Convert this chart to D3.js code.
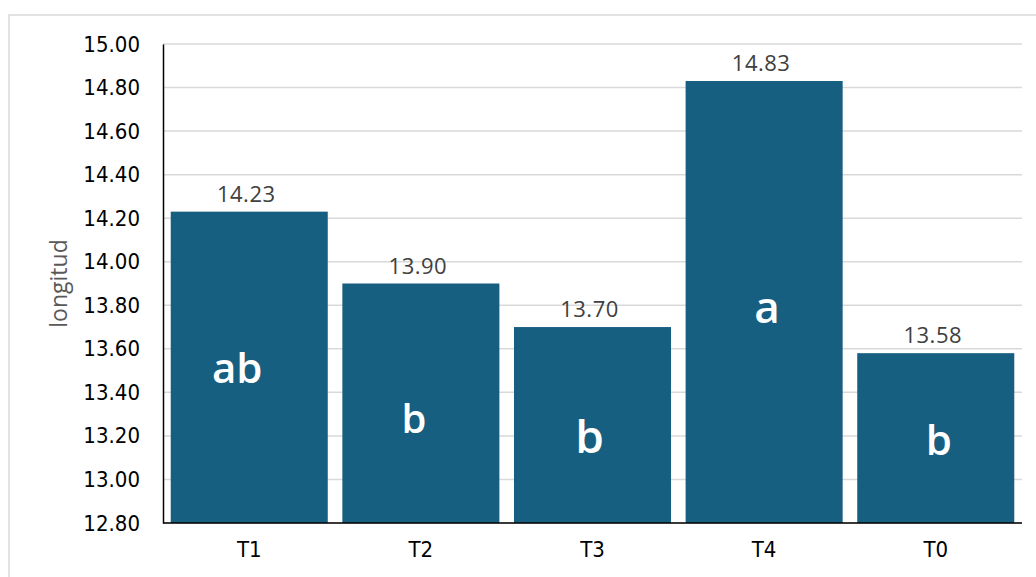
<!DOCTYPE html>
<html>
<head>
<meta charset="utf-8">
<script src="https://cdn.jsdelivr.net/npm/d3@7"></script>
<style>
  html, body { margin: 0; padding: 0; background: #fff; }
  svg { display: block; }
</style>
</head>
<body>
<svg id="chart" width="1036" height="577"></svg>
<script>
// Treatments and mean length
const categories = ["T1", "T2", "T3", "T4", "T0"];
const values = [14.23, 13.90, 13.70, 14.83, 13.58];
// Significance groups (Tukey letters)
const groups = ["ab", "b", "b", "a", "b"];
const yTicks = [12.80, 13.00, 13.20, 13.40, 13.60, 13.80, 14.00, 14.20, 14.40, 14.60, 14.80, 15.00];
const yDomain = [12.80, 15.00];
const yTitle = "longitud";

// Placement of the group letters inside each bar (offset from bar centre, baseline, font size)
const letterLayout = [
  { dx: -12, y: 383, size: 42 },
  { dx: -7,  y: 433, size: 40 },
  { dx: -3,  y: 453, size: 46 },
  { dx: 3,   y: 323, size: 44 },
  { dx: 3,   y: 455, size: 42 }
];

const svg = d3.select("#chart");
const margin = { left: 163, right: 1022, top: 44, bottom: 523 };
const barColor = "#175f81";
const gridColor = "#d9d9d9";
const tickFont = "'DejaVu Sans Condensed', 'DejaVu Sans', sans-serif";
const labelFont = "'Open Sans', 'Noto Sans', sans-serif";

// Outer frame
svg.append("rect")
  .attr("x", 9).attr("y", 15)
  .attr("width", 1040).attr("height", 580)
  .attr("fill", "none")
  .attr("stroke", gridColor)
  .attr("stroke-width", 1.5);

const x = d3.scaleBand()
  .domain(categories)
  .range([margin.left, margin.right])
  .paddingInner(0.085)
  .paddingOuter(0.045);

const y = d3.scaleLinear()
  .domain(yDomain)
  .range([margin.bottom, margin.top]);

// Horizontal gridlines
svg.append("g")
  .selectAll("line")
  .data(yTicks)
  .join("line")
  .attr("x1", margin.left).attr("x2", margin.right)
  .attr("y1", d => y(d)).attr("y2", d => y(d))
  .attr("stroke", gridColor)
  .attr("stroke-width", 1.5);

// Bars
svg.append("g")
  .selectAll("rect")
  .data(categories)
  .join("rect")
  .attr("x", d => x(d))
  .attr("width", x.bandwidth())
  .attr("y", (d, i) => y(values[i]))
  .attr("height", (d, i) => y(yDomain[0]) - y(values[i]))
  .attr("fill", barColor);

// Y axis
const yAxis = d3.axisLeft(y)
  .tickValues(yTicks)
  .tickFormat(d3.format(".2f"))
  .tickSize(0)
  .tickPadding(23);
const yg = svg.append("g")
  .attr("transform", `translate(${margin.left},0)`)
  .call(yAxis);
yg.select(".domain").attr("stroke", "#000").attr("stroke-width", 1.5);
yg.selectAll("text")
  .attr("font-family", tickFont)
  .attr("font-size", 22)
  .attr("fill", "#000");

// X axis
const xAxis = d3.axisBottom(x).tickSize(0).tickPadding(18);
const xg = svg.append("g")
  .attr("transform", `translate(0,${margin.bottom})`)
  .call(xAxis);
xg.select(".domain")
  .attr("d", `M${margin.left},0H${margin.right}`)
  .attr("stroke", "#000").attr("stroke-width", 1.5);
xg.selectAll("text")
  .attr("font-family", tickFont)
  .attr("font-size", 22)
  .attr("fill", "#000");

// Value labels above bars
svg.append("g")
  .selectAll("text")
  .data(categories)
  .join("text")
  .attr("x", d => x(d) + x.bandwidth() / 2 - 3)
  .attr("y", (d, i) => y(values[i]) - 10)
  .attr("text-anchor", "middle")
  .attr("font-family", labelFont)
  .attr("font-size", 22)
  .attr("letter-spacing", 0.5)
  .attr("fill", "#404040")
  .text((d, i) => d3.format(".2f")(values[i]));

// Group letters inside bars
svg.append("g")
  .selectAll("text")
  .data(categories)
  .join("text")
  .attr("x", (d, i) => x(d) + x.bandwidth() / 2 + letterLayout[i].dx)
  .attr("y", (d, i) => letterLayout[i].y)
  .attr("text-anchor", "middle")
  .attr("font-family", labelFont)
  .attr("font-weight", 600)
  .attr("font-size", (d, i) => letterLayout[i].size)
  .attr("fill", "#fff")
  .text((d, i) => groups[i]);

// Y axis title
svg.append("text")
  .attr("transform", `translate(67,${(margin.top + margin.bottom) / 2}) rotate(-90)`)
  .attr("text-anchor", "middle")
  .attr("font-family", labelFont)
  .attr("font-size", 23)
  .attr("fill", "#595959")
  .text(yTitle);
</script>
</body>
</html>
